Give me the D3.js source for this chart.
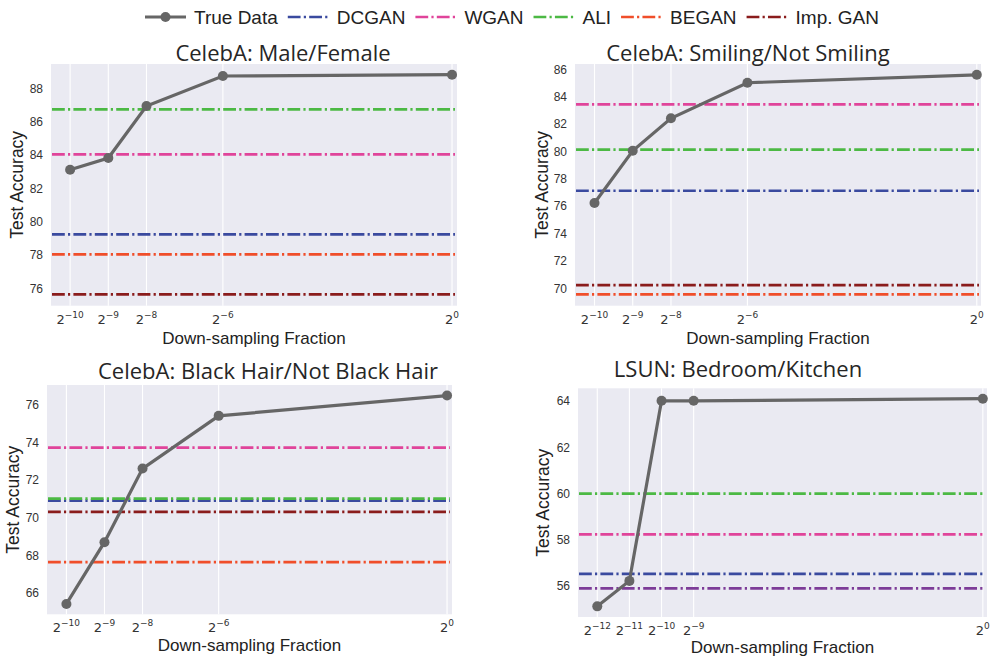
<!DOCTYPE html>
<html><head><meta charset="utf-8">
<script src="https://cdn.jsdelivr.net/npm/d3@7/dist/d3.min.js"></script>
<style>
body{margin:0;background:#fff;}
svg{display:block;}
</style></head>
<body><svg id="c" width="991" height="657"></svg>
<script>
// ---------- data ----------
const seriesNames = ["DCGAN","WGAN","ALI","BEGAN","Imp. GAN"];
const seriesColors = ["#3a4a9f","#e0449a","#4cb944","#f04e2a","#8a1c1c"];
const trueColor = "#666666";

const p1Title = "CelebA: Male/Female";
const p1X = [-10,-9,-8,-6,0];
const p1True = [83.12,83.82,86.94,88.74,88.82];
const p1Base = [79.24,84.04,86.74,78.04,75.64];
const p1YTicks = [76,78,80,82,84,86,88];

const p2Title = "CelebA: Smiling/Not Smiling";
const p2X = [-10,-9,-8,-6,0];
const p2True = [76.23,80.05,82.42,85.02,85.6];
const p2Base = [77.13,83.44,80.13,69.56,70.24];
const p2YTicks = [70,72,74,76,78,80,82,84,86];

const p3Title = "CelebA: Black Hair/Not Black Hair";
const p3X = [-10,-9,-8,-6,0];
const p3True = [65.43,68.71,72.62,75.42,76.5];
const p3Base = [70.92,73.73,71.02,67.65,70.32];
const p3YTicks = [66,68,70,72,74,76];

const p4Title = "LSUN: Bedroom/Kitchen";
const p4X = [-12,-11,-10,-9,0];
const p4True = [55.13,56.23,64.01,64.01,64.1];
const p4BaseNames = ["DCGAN","WGAN","ALI","Imp. GAN"];
const p4Base = [56.53,58.24,60.0,55.91];
const p4Colors = ["#3a4a9f","#e0449a","#4cb944","#7d3c98"];
const p4YTicks = [56,58,60,62,64];

// ---------- layout ----------
const panels = [
  {title:p1Title, xs:p1X, ys:p1True, base:p1Base, colors:seriesColors, yt:p1YTicks,
   L:51,R:457,T:64,B:305.7, xd:[-10.5,0.13], yd:[74.96,89.46], tx:283, ty:61, ylx:17, xly:344},
  {title:p2Title, xs:p2X, ys:p2True, base:p2Base, colors:seriesColors, yt:p2YTicks,
   L:575,R:981,T:64,B:305.7, xd:[-10.51,0.11], yd:[68.73,86.39], tx:748, ty:61, ylx:542, xly:344},
  {title:p3Title, xs:p3X, ys:p3True, base:p3Base, colors:seriesColors, yt:p3YTicks,
   L:47,R:452,T:385,B:614.3, xd:[-10.51,0.13], yd:[64.88,77.06], tx:268, ty:379, ylx:13, xly:651},
  {title:p4Title, xs:p4X, ys:p4True, base:p4Base, colors:p4Colors, yt:p4YTicks,
   L:578,R:987,T:388.3,B:617, xd:[-12.6,0.13], yd:[54.67,64.55], tx:738, ty:377, ylx:543, xly:653}
];

const svg = d3.select("#c");
const dash = "12.8,3.2,2.2,3.2";

panels.forEach(p=>{
  const x = d3.scaleLinear().domain(p.xd).range([p.L,p.R]);
  const y = d3.scaleLinear().domain(p.yd).range([p.B,p.T]);
  const g = svg.append("g");
  g.append("rect").attr("x",p.L).attr("y",p.T).attr("width",p.R-p.L).attr("height",p.B-p.T).attr("fill","#eaeaf2");
  // vertical grid
  g.selectAll(".vg").data(p.xs).join("line")
    .attr("x1",d=>x(d)).attr("x2",d=>x(d)).attr("y1",p.T).attr("y2",p.B)
    .attr("stroke","#fff").attr("stroke-width",1.1);
  // x tick labels
  const xl = g.selectAll(".xt").data(p.xs).join("text")
    .attr("x",d=>x(d)).attr("y",p.B+18).attr("text-anchor","middle")
    .attr("font-family","'DejaVu Sans', sans-serif").attr("fill","#333");
  xl.append("tspan").attr("font-size",13).text("2");
  xl.append("tspan").attr("font-size",9).attr("dy",-6).text(d=>d===0?"0":"\u2212"+(-d));
  // y tick labels
  g.selectAll(".yt").data(p.yt).join("text")
    .attr("x",p.L-8).attr("y",d=>y(d)).attr("dy","0.35em").attr("text-anchor","end")
    .attr("font-family","'Liberation Sans', Arial, sans-serif").attr("font-size",12).attr("fill","#333")
    .text(d=>d);
  // baselines
  g.selectAll(".bl").data(p.base).join("line")
    .attr("x1",p.L+1).attr("x2",p.R-2).attr("y1",d=>y(d)).attr("y2",d=>y(d))
    .attr("stroke",(d,i)=>p.colors[i]).attr("stroke-width",2.7).attr("stroke-dasharray",dash);
  // true data
  const pts = p.xs.map((v,i)=>[v,p.ys[i]]);
  g.append("path").datum(pts).attr("fill","none").attr("stroke",trueColor).attr("stroke-width",3.2)
    .attr("d",d3.line().x(d=>x(d[0])).y(d=>y(d[1])));
  g.selectAll(".pt").data(pts).join("circle").attr("cx",d=>x(d[0])).attr("cy",d=>y(d[1])).attr("r",5)
    .attr("fill",trueColor);
  // title
  g.append("text").attr("x",p.tx).attr("y",p.ty).attr("text-anchor","middle")
    .attr("font-family","'Open Sans', 'Noto Sans', sans-serif").attr("font-size",22).attr("fill","#262626")
    .text(p.title);
  // axis labels
  g.append("text").attr("transform",`translate(${p.ylx},${(p.T+p.B)/2}) rotate(-90)`).attr("text-anchor","middle")
    .attr("dy","0.35em")
    .attr("font-family","'Liberation Sans', Arial, sans-serif").attr("font-size",17.5).attr("fill","#222")
    .text("Test Accuracy");
  g.append("text").attr("x",(p.L+p.R)/2).attr("y",p.xly).attr("text-anchor","middle")
    .attr("font-family","'Liberation Sans', Arial, sans-serif").attr("font-size",17).attr("fill","#222")
    .text("Down-sampling Fraction");
});

// ---------- legend ----------
const legItems = [{name:"True Data",color:trueColor,t:true}].concat(seriesNames.map((n,i)=>({name:n,color:seriesColors[i]})));
const lg = svg.append("g");
let lx = 145; const ly = 17;
legItems.forEach(it=>{
  if(it.t){
    lg.append("line").attr("x1",lx).attr("x2",lx+41).attr("y1",ly).attr("y2",ly).attr("stroke",it.color).attr("stroke-width",3.2);
    lg.append("circle").attr("cx",lx+20.5).attr("cy",ly).attr("r",5).attr("fill",it.color);
  } else {
    lg.append("line").attr("x1",lx).attr("x2",lx+40).attr("y1",ly).attr("y2",ly).attr("stroke",it.color).attr("stroke-width",2.7).attr("stroke-dasharray",dash);
  }
  const t = lg.append("text").attr("x",lx+49).attr("y",ly).attr("dy","0.35em")
    .attr("font-family","'Liberation Sans', Arial, sans-serif").attr("font-size",19).attr("fill","#222").text(it.name);
  lx += 49 + t.node().getComputedTextLength() + 10;
});
</script></body></html>
